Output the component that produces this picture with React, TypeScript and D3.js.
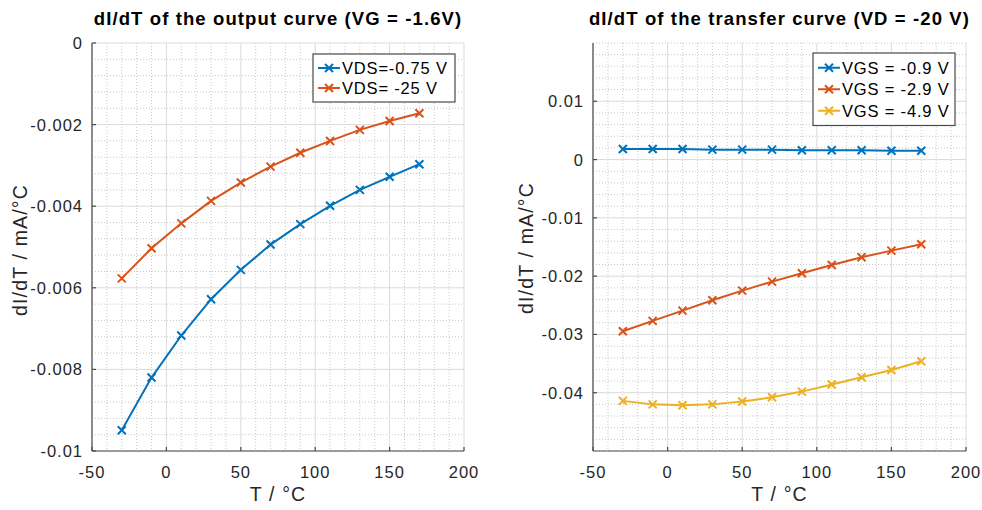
import React from "react";
import * as d3 from "d3";

const temps = [-30, -10, 10, 30, 50, 70, 90, 110, 130, 150, 170];

const outVds075 = [-0.00949, -0.0082, -0.00717, -0.00628, -0.00556, -0.00494, -0.00444, -0.00399, -0.0036, -0.00328, -0.00297];
const outVds25 = [-0.00577, -0.00503, -0.00442, -0.00387, -0.00342, -0.00303, -0.00269, -0.0024, -0.00213, -0.00191, -0.00172];

const trVgs09 = [0.0018, 0.0018, 0.0018, 0.0017, 0.0017, 0.0017, 0.0016, 0.0016, 0.0016, 0.0015, 0.0015];
const trVgs29 = [-0.02945, -0.02768, -0.02591, -0.02414, -0.02248, -0.02094, -0.0195, -0.01808, -0.01676, -0.01562, -0.01453];
const trVgs49 = [-0.0414, -0.042, -0.04215, -0.042, -0.04152, -0.04078, -0.03981, -0.0386, -0.03735, -0.0361, -0.0346];

const xTicks = [-50, 0, 50, 100, 150, 200];
const xTickLabels = ["-50", "0", "50", "100", "150", "200"];

const leftYTicks = [0, -0.002, -0.004, -0.006, -0.008, -0.01];
const leftYTickLabels = ["0", "-0.002", "-0.004", "-0.006", "-0.008", "-0.01"];

const rightYTicks = [0.01, 0, -0.01, -0.02, -0.03, -0.04];
const rightYTickLabels = ["0.01", "0", "-0.01", "-0.02", "-0.03", "-0.04"];

const leftNames = ["VDS=-0.75 V", "VDS= -25 V"];
const rightNames = ["VGS = -0.9 V", "VGS = -2.9 V", "VGS = -4.9 V"];

const COLORS = ["#0072BD", "#D95319", "#EDB120"];
const FONT = "'Liberation Sans', Arial, Helvetica, sans-serif";

type Series = { name: string; values: number[]; color: string };

function Panel(props: {
  x0: number; x1: number; y0: number; y1: number;
  yDomain: [number, number]; yTicks: number[]; yTickLabels: string[]; yMinorStep: number;
  title: string; series: Series[];
  legend: { x: number; y: number; w: number; rowH: number };
  ylabelX: number; ylabelY: number;
}) {
  const { x0, x1, y0, y1, yDomain, yTicks, yTickLabels, yMinorStep, title, series, legend } = props;
  const xs = d3.scaleLinear().domain([-50, 200]).range([x0, x1]);
  const ys = d3.scaleLinear().domain(yDomain).range([y1, y0]);
  const xMinor = d3.range(-50, 200.001, 10).filter((v) => !xTicks.includes(v));
  const nMinor = Math.round((yDomain[1] - yDomain[0]) / yMinorStep);
  const yMinor = d3.range(0, nMinor + 1).map((i) => yDomain[0] + i * yMinorStep)
    .filter((v) => !yTicks.some((t) => Math.abs(t - v) < yMinorStep / 10));
  const line = d3.line<number>().x((_, i) => xs(temps[i])).y((d) => ys(d));
  const m = 4;
  const legH = legend.rowH * series.length + 8;
  return (
    <g>
      {xMinor.map((v) => (
        <line key={"xm" + v} x1={xs(v)} x2={xs(v)} y1={y0} y2={y1} stroke="#b9b9b9" strokeWidth={0.8} strokeDasharray="1,2" />
      ))}
      {yMinor.map((v, i) => (
        <line key={"ym" + i} x1={x0} x2={x1} y1={ys(v)} y2={ys(v)} stroke="#b9b9b9" strokeWidth={0.8} strokeDasharray="1,2" />
      ))}
      {xTicks.map((v) => (
        <line key={"xg" + v} x1={xs(v)} x2={xs(v)} y1={y0} y2={y1} stroke="#dadada" strokeWidth={1} />
      ))}
      {yTicks.map((v, i) => (
        <line key={"yg" + i} x1={x0} x2={x1} y1={ys(v)} y2={ys(v)} stroke="#dadada" strokeWidth={1} />
      ))}
      <line x1={x0} x2={x0} y1={y0} y2={y1} stroke="#4a4a4a" strokeWidth={1.2} />
      <line x1={x0} x2={x1} y1={y1} y2={y1} stroke="#4a4a4a" strokeWidth={1.2} />
      {xTicks.map((v) => (
        <line key={"xt" + v} x1={xs(v)} x2={xs(v)} y1={y1} y2={y1 - 4} stroke="#4a4a4a" strokeWidth={1.2} />
      ))}
      {yTicks.map((v, i) => (
        <line key={"yt" + i} x1={x0} x2={x0 + 4} y1={ys(v)} y2={ys(v)} stroke="#4a4a4a" strokeWidth={1.2} />
      ))}
      {xTicks.map((v, i) => (
        <text key={"xl" + v} x={xs(v)} y={y1 + 21} textAnchor="middle" dominantBaseline="central" fontSize={16.5} letterSpacing="0.06em" fill="#262626">{xTickLabels[i]}</text>
      ))}
      {yTicks.map((v, i) => (
        <text key={"yl" + i} x={x0 - 9} y={ys(v)} textAnchor="end" dominantBaseline="central" fontSize={16.5} letterSpacing="0.06em" fill="#262626">{yTickLabels[i]}</text>
      ))}
      <text x={(x0 + x1) / 2} y={501} textAnchor="middle" fontSize={19.5} letterSpacing="0.06em" fill="#262626">T / °C</text>
      <text transform={`translate(${props.ylabelX},${props.ylabelY}) rotate(-90)`} textAnchor="middle" fontSize={19.5} letterSpacing="0.06em" fill="#262626">dI/dT / mA/°C</text>
      <text x={(x0 + x1) / 2} y={25} textAnchor="middle" fontSize={18.5} fontWeight="bold" letterSpacing="0.06em" fill="#000">{title}</text>
      {series.map((s) => (
        <g key={s.name}>
          <path d={line(s.values) || ""} fill="none" stroke={s.color} strokeWidth={2} />
          {s.values.map((v, i) => (
            <path key={i} d={`M${xs(temps[i]) - m},${ys(v) - m}L${xs(temps[i]) + m},${ys(v) + m}M${xs(temps[i]) - m},${ys(v) + m}L${xs(temps[i]) + m},${ys(v) - m}`} stroke={s.color} strokeWidth={2} />
          ))}
        </g>
      ))}
      <rect x={legend.x} y={legend.y} width={legend.w} height={legH} fill="#fff" stroke="#4a4a4a" strokeWidth={1.2} />
      {series.map((s, i) => {
        const cy = legend.y + 4 + legend.rowH * (i + 0.5);
        const lx0 = legend.x + 5, lx1 = legend.x + 27, mx = (lx0 + lx1) / 2;
        return (
          <g key={"lg" + i}>
            <line x1={lx0} x2={lx1} y1={cy} y2={cy} stroke={s.color} strokeWidth={2} />
            <path d={`M${mx - m},${cy - m}L${mx + m},${cy + m}M${mx - m},${cy + m}L${mx + m},${cy - m}`} stroke={s.color} strokeWidth={2} />
            <text x={lx1 + 2} y={cy} dominantBaseline="central" fontSize={16.5} letterSpacing="0.05em" fill="#000">{s.name}</text>
          </g>
        );
      })}
    </g>
  );
}

export default function App() {
  const left: Series[] = [
    { name: leftNames[0], values: outVds075, color: COLORS[0] },
    { name: leftNames[1], values: outVds25, color: COLORS[1] },
  ];
  const right: Series[] = [
    { name: rightNames[0], values: trVgs09, color: COLORS[0] },
    { name: rightNames[1], values: trVgs29, color: COLORS[1] },
    { name: rightNames[2], values: trVgs49, color: COLORS[2] },
  ];
  return (
    <svg width={982} height={510} style={{ position: "absolute", left: 0, top: 0, background: "#fff", fontFamily: FONT }}>
      <rect x={0} y={0} width={982} height={510} fill="#fff" />
      <Panel x0={92} x1={464} y0={43} y1={451} yDomain={[-0.01, 0]} yTicks={leftYTicks} yTickLabels={leftYTickLabels} yMinorStep={0.0004}
        title="dI/dT of the output curve (VG = -1.6V)" series={left}
        legend={{ x: 313, y: 54, w: 142, rowH: 20 }} ylabelX={27} ylabelY={250} />
      <Panel x0={593} x1={966} y0={43} y1={451} yDomain={[-0.05, 0.02]} yTicks={rightYTicks} yTickLabels={rightYTickLabels} yMinorStep={0.002}
        title="dI/dT of the transfer curve (VD = -20 V)" series={right}
        legend={{ x: 813, y: 53, w: 142, rowH: 21.5 }} ylabelX={533} ylabelY={248} />
    </svg>
  );
}
